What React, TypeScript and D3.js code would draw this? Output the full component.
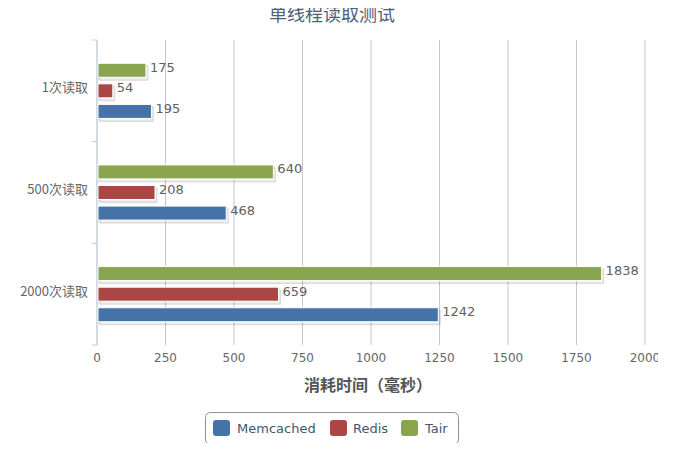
import React from 'react';
import * as d3 from 'd3';

const categories = ['1次读取', '500次读取', '2000次读取'];
const seriesNames = ['Memcached', 'Redis', 'Tair'];
const memcached = [195, 468, 1242];
const redis = [54, 208, 659];
const tair = [175, 640, 1838];
const xTicks = [0, 250, 500, 750, 1000, 1250, 1500, 1750, 2000];
const colors = ['#4572A7', '#AA4643', '#89A54E'];

const W = 685;
const H = 451;
const margin = { top: 40, right: 40, bottom: 106, left: 97 };
const font = '"Lucida Grande", "DejaVu Sans", "Noto Sans CJK SC", sans-serif';

const App: React.FC = () => {
  const values = [memcached, redis, tair];
  const x = d3.scaleLinear().domain([0, 2000]).range([margin.left, W - margin.right]);
  const y = d3.scaleBand<string>().domain(categories).range([margin.top, H - margin.bottom]);
  // Tair sits on top, Memcached at the bottom
  const inner = d3
    .scaleBand<string>()
    .domain([...seriesNames].reverse())
    .range([0, y.bandwidth()])
    .paddingInner(0.32)
    .paddingOuter(1.13);

  const bars = categories.flatMap((c, ci) =>
    seriesNames.map((s, si) => ({ c, s, v: values[si][ci], color: colors[si] }))
  );

  const legendItems = [
    { name: 'Memcached', sym: 213, text: 237 },
    { name: 'Redis', sym: 330, text: 353 },
    { name: 'Tair', sym: 401, text: 425 },
  ];

  return (
    <svg width={W} height={H} style={{ display: 'block', margin: -8, fontFamily: font }}>
      <defs>
        <clipPath id="chartClip">
          <rect x={0} y={0} width={658} height={H} />
        </clipPath>
      </defs>
      <rect width={W} height={H} fill="#fff" />
      <text x={332} y={21} textAnchor="middle" fontSize={18} fill="#4d6277" fontFamily='"Noto Sans CJK SC", sans-serif'>
        单线程读取测试
      </text>

      {/* vertical grid */}
      {xTicks.map((t) => (
        <line key={t} x1={x(t)} x2={x(t)} y1={margin.top} y2={H - margin.bottom} stroke="#c8c8c8" strokeWidth={1} />
      ))}

      {/* category axis */}
      <line x1={margin.left} x2={margin.left} y1={margin.top} y2={H - margin.bottom} stroke="#c0d0e0" />
      {[...categories.map((c) => y(c)!), H - margin.bottom].map((t, i) => (
        <line key={i} x1={margin.left - 5} x2={margin.left} y1={t} y2={t} stroke="#c0d0e0" />
      ))}
      {categories.map((c) => (
        <text key={c} x={88} y={y(c)! + y.bandwidth() / 2 - 3} dy="0.35em" textAnchor="end" fontSize={13} fill="#666" fontFamily='"Noto Sans CJK SC", sans-serif'>
          {c}
        </text>
      ))}

      {/* bars */}
      {bars.map((b) => {
        const by = y(b.c)! + inner(b.s)!;
        const bh = inner.bandwidth();
        const bw = x(b.v) - x(0);
        return (
          <g key={b.c + b.s}>
            {[3, 2, 1].map((o) => (
              <rect key={o} x={x(0) + o} y={by + o} width={bw} height={bh} fill="none" stroke="#000" strokeOpacity={0.05 * o} strokeWidth={1} />
            ))}
            <rect x={x(0) + 1} y={by} width={bw} height={bh} fill={b.color} stroke="#fff" strokeWidth={1} />
            <text x={x(b.v) + 5} y={by + bh / 2 - 3} dy="0.35em" fontSize={13} fill="#606060">
              {b.v}
            </text>
          </g>
        );
      })}

      {/* x axis labels */}
      <g clipPath="url(#chartClip)">
        {xTicks.map((t) => (
          <text key={t} x={x(t)} y={362} textAnchor="middle" fontSize={12} fill="#666">
            {t}
          </text>
        ))}
      </g>
      <text x={368} y={391} textAnchor="middle" fontSize={16} fontWeight="bold" fill="#555" fontFamily='"Noto Sans CJK SC", sans-serif'>
        消耗时间（毫秒）
      </text>

      {/* legend */}
      <rect x={205.5} y={412.5} width={253} height={32} rx={5} fill="#fff" stroke="#909090" />
      {legendItems.map((it, i) => (
        <g key={it.name}>
          <rect x={it.sym} y={420} width={17} height={16} rx={3} fill={colors[i]} />
          <text x={it.text} y={433} fontSize={13} fill="#3E576F">
            {it.name}
          </text>
        </g>
      ))}
    </svg>
  );
};

export default App;
